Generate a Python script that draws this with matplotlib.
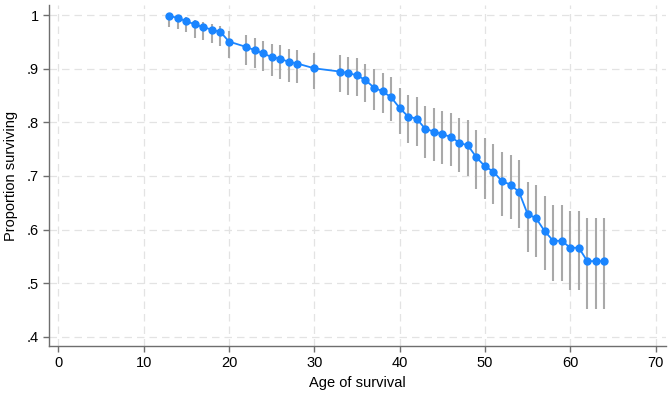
import matplotlib
matplotlib.use("Agg")
import matplotlib.pyplot as plt
from matplotlib.ticker import FuncFormatter

# --- DATA ---
ages = [13, 14, 15, 16, 17, 18, 19, 20, 22, 23, 24, 25, 26, 27, 28, 30,
        33, 34, 35, 36, 37, 38, 39, 40, 41, 42, 43, 44, 45, 46, 47, 48,
        49, 50, 51, 52, 53, 54, 55, 56, 57, 58, 59, 60, 61, 62, 63, 64]

surv = [.999, .995, .989, .983, .978, .973, .969, .951, .941, .935, .929, .922,
        .919, .913, .910, .901, .895, .892, .888, .879, .865, .858, .847, .827,
        .811, .807, .788, .783, .778, .773, .762, .757, .735, .718, .708, .690,
        .684, .670, .629, .621, .597, .579, .579, .566, .566, .541, .541, .541]

lower = [.979, .974, .968, .958, .954, .948, .942, .920, .908, .902, .896, .887,
         .882, .876, .873, .863, .857, .852, .849, .838, .823, .817, .802, .778,
         .761, .756, .734, .728, .723, .718, .707, .700, .675, .657, .647, .626,
         .620, .603, .558, .549, .524, .504, .504, .487, .487, .451, .451, .451]

upper = [1.0, .999, .996, .992, .988, .984, .980, .970, .963, .957, .952, .947,
         .944, .938, .936, .930, .925, .923, .920, .910, .899, .893, .884, .865,
         .852, .847, .830, .826, .822, .818, .809, .804, .785, .770, .760, .744,
         .739, .729, .689, .683, .662, .646, .646, .635, .635, .621, .621, .621]

x_ticks = [0, 10, 20, 30, 40, 50, 60, 70]
y_ticks = [.4, .5, .6, .7, .8, .9, 1.0]

plt.rcParams['font.family'] = ['Liberation Sans', 'DejaVu Sans']

fig = plt.figure(figsize=(6.69, 3.95), dpi=100)
ax = fig.add_axes([0.0732, 0.124, 0.922, 0.863])

# confidence interval spikes
ax.vlines(ages, lower, upper, color='#a9a9a9', linewidth=1.5, zorder=2)

# survival line with markers
ax.plot(ages, surv, color='#1a85ff', linewidth=1.3, marker='o',
        markersize=5, zorder=3)

ax.set_xlim(-1.1, 71.2)
ax.set_ylim(0.3825, 1.019)
ax.set_xticks(x_ticks)
ax.set_yticks(y_ticks)

def fmt_y(v, pos):
    if abs(v - 1) < 1e-9:
        return '1'
    return ('%.1f' % v).lstrip('0')

ax.yaxis.set_major_formatter(FuncFormatter(fmt_y))

ax.grid(True, color='#e3e3e3', linestyle=(0, (6, 4)), linewidth=0.9, zorder=0)
ax.set_axisbelow(True)

for side in ['top', 'right']:
    ax.spines[side].set_visible(False)
for side in ['left', 'bottom']:
    ax.spines[side].set_color('#6e6e6e')
    ax.spines[side].set_linewidth(1.0)

ax.tick_params(axis='both', direction='out', length=4, width=1.0,
               color='#6e6e6e', labelsize=10.5, labelcolor='#000000')

ax.set_xlabel('Age of survival', fontsize=10.5, labelpad=4)
ax.set_ylabel('Proportion surviving', fontsize=10.5, labelpad=6)

fig.savefig('out.png', dpi=100)
